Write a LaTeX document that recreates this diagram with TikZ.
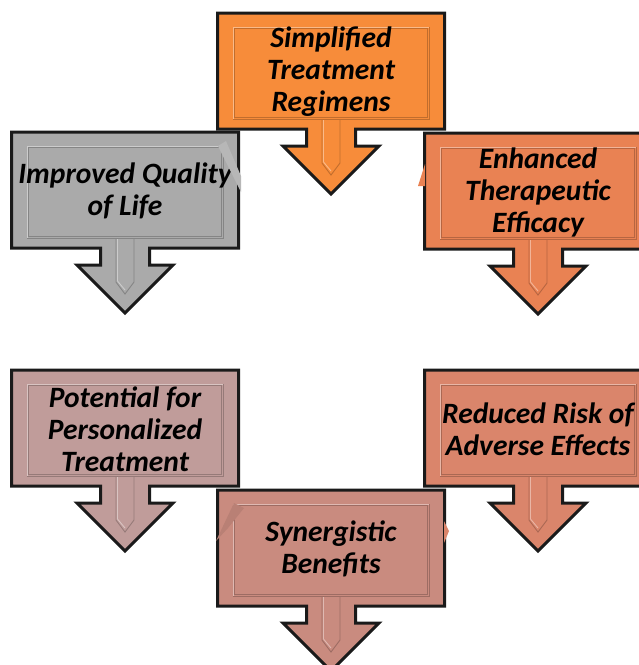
\documentclass[tikz,border=0pt]{standalone}
\usepackage{fontspec}
\setmainfont{Carlito}
\definecolor{regimen}{RGB}{247,140,58}
\definecolor{quality}{RGB}{170,170,170}
\definecolor{efficacy}{RGB}{233,130,83}
\definecolor{personal}{RGB}{192,156,154}
\definecolor{synergy}{RGB}{201,139,127}
\definecolor{adverse}{RGB}{218,133,107}
\definecolor{edge}{RGB}{26,26,26}
\tikzset{
  calloutshape/.style={draw=edge, line width=3pt, line join=miter, fill=#1},
  bevelshade/.style={draw=#1!78!black, line width=0.9pt},
  bevellight/.style={draw=#1!60!white, line width=0.9pt},
  calloutlabel/.style={align=center, text=black, inner sep=0pt,
    font=\bfseries\itshape\fontsize{29.5}{32}\selectfont},
  foldtab/.style={fill=#1, draw=none}
}
% Down-arrow callout: name, centre x, top y, colour, text
\newcommand\downcallout[5]{%
  \begin{scope}[shift={(#2,#3)}]
    \path[calloutshape=#4] (-113.5,0) -- (113.5,0) -- (113.5,116) -- (24.5,116)
      -- (24.5,133) -- (48,133) -- (0,181) -- (-48,133) -- (-24.5,133)
      -- (-24.5,116) -- (-113.5,116) -- cycle;
    % bevelled inner panel
    \draw[bevellight=#4] (-98,106) -- (-98,14) -- (98,14);
    \draw[bevelshade=#4] (98,14) -- (98,106) -- (-98,106);
    \draw[bevelshade=#4] (-96.5,15.5) rectangle (96.5,104.5);
    % bevelled inner arrow
    \draw[bevelshade=#4] (-9,106) -- (-9,150) -- (0,162) -- (9,150) -- (9,106);
    \draw[bevellight=#4] (-7.5,107) -- (-7.5,149) -- (0,158);
    \node[calloutlabel] (#1) at (0,59) {#5};
  \end{scope}}
\begin{document}
\begin{tikzpicture}[x=1pt,y=-1pt]
\useasboundingbox (0,0) rectangle (639,665);
\downcallout{regimens}{331}{13}{regimen}{Simplified\\Treatment\\Regimens}
\downcallout{quality}{125}{132}{quality}{Improved Quality\\of Life}
\downcallout{efficacy}{538}{133}{efficacy}{Enhanced\\Therapeutic\\Efficacy}
\downcallout{personal}{125}{370}{personal}{Potential for\\Personalized\\Treatment}
\downcallout{adverse}{538}{370}{adverse}{Reduced Risk of\\Adverse Effects}
\downcallout{synergy}{331}{490}{synergy}{Synergistic\\Benefits}
% small folded tabs peeking from the panels
\path[foldtab=quality!85!white] (218,146) -- (226,141) -- (241,176) -- (241,192) -- cycle;
\path[foldtab=efficacy] (425,164) -- (425,186) -- (418,186) -- cycle;
\path[foldtab=synergy!92!black] (216,541) -- (234,503) -- (244,508) -- (228,528) -- cycle;
\path[foldtab=adverse] (444,521) -- (449,531) -- (444,543) -- cycle;
\end{tikzpicture}
\end{document}
